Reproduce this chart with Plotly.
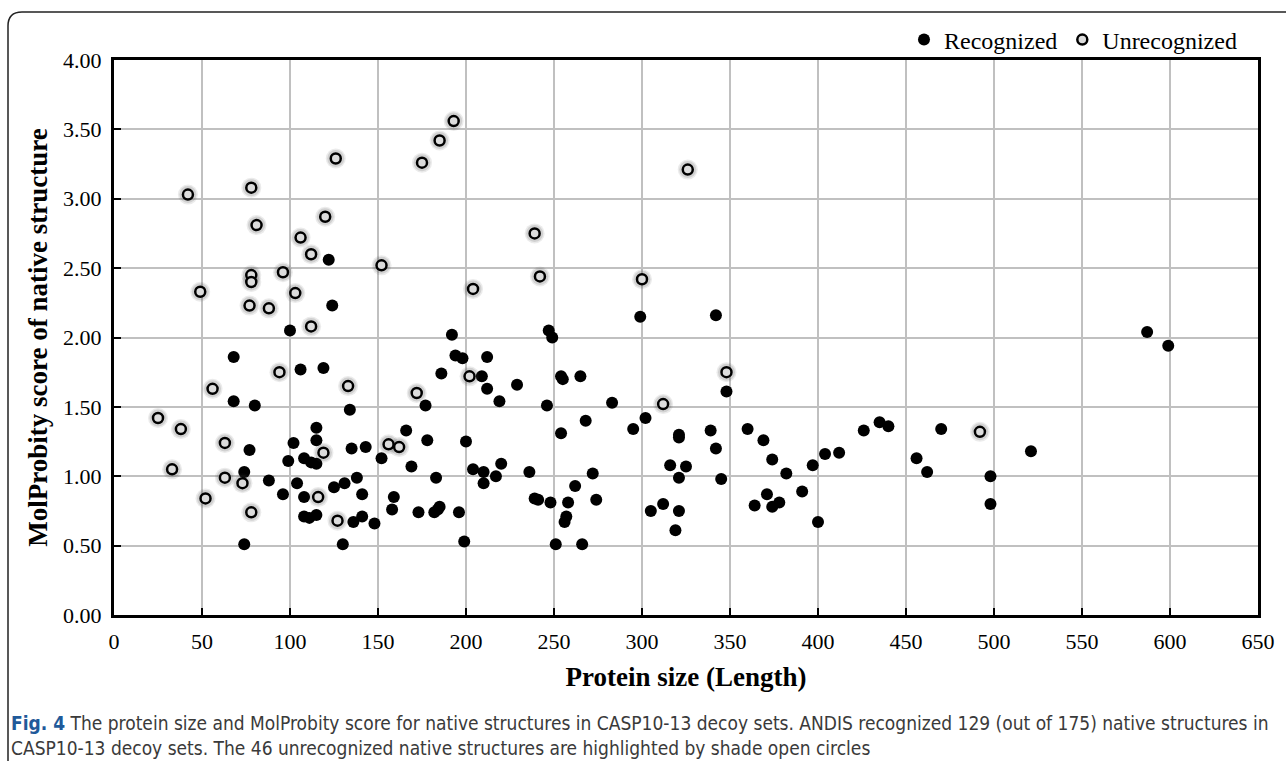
import plotly.graph_objects as go

# ---- data ----
recognized_len = [122, 124, 100, 68, 106, 119, 68, 80, 134, 115, 115, 102, 77, 135, 99, 108, 112, 115, 74, 88,
                  104, 138, 125, 131, 96, 108, 141, 108, 111, 115, 136, 74, 130,
                  299, 247, 249, 192, 194, 198, 212, 186, 209, 254, 255, 265, 212, 229, 219, 177, 246,
                  283, 268, 254, 295, 166, 143, 178, 200, 152, 169, 204, 210, 220, 236, 210, 217, 183,
                  272, 159, 158, 173, 182, 185, 184, 196, 239, 241, 248, 258, 262, 274, 257, 256, 141,
                  148, 199, 251, 266,
                  342, 348, 302, 321, 321, 339, 342, 360, 369, 374, 316, 325, 321, 345, 382, 397, 404,
                  412, 426, 435, 440, 456, 462, 470, 312, 305, 321, 319, 371, 364, 374, 378, 391, 400,
                  521, 498, 498, 587, 599]
recognized_score = [2.56, 2.23, 2.05, 1.86, 1.77, 1.78, 1.54, 1.51, 1.48, 1.35, 1.26, 1.24, 1.19, 1.20, 1.11, 1.13,
                    1.10, 1.09, 1.03, 0.97, 0.95, 0.99, 0.92, 0.95, 0.87, 0.85, 0.87, 0.71, 0.70, 0.72, 0.67,
                    0.51, 0.51,
                    2.15, 2.05, 2.00, 2.02, 1.87, 1.85, 1.86, 1.74, 1.72, 1.72, 1.70, 1.72, 1.63, 1.66, 1.54,
                    1.51, 1.51, 1.53, 1.40, 1.31, 1.34, 1.33, 1.21, 1.26, 1.25, 1.13, 1.07, 1.05, 1.03, 1.09,
                    1.03, 0.95, 1.00, 0.99, 1.02, 0.85, 0.76, 0.74, 0.74, 0.78, 0.76, 0.74, 0.84, 0.83, 0.81,
                    0.81, 0.93, 0.83, 0.71, 0.67, 0.71, 0.66, 0.53, 0.51, 0.51,
                    2.16, 1.61, 1.42, 1.30, 1.28, 1.33, 1.20, 1.34, 1.26, 1.12, 1.08, 1.07, 0.99, 0.98, 1.02,
                    1.08, 1.16, 1.17, 1.33, 1.39, 1.36, 1.13, 1.03, 1.34, 0.80, 0.75, 0.75, 0.61, 0.87, 0.79,
                    0.78, 0.81, 0.89, 0.67,
                    1.18, 1.00, 0.80, 2.04, 1.94]

unrecognized_len = [126, 42, 78, 120, 81, 106, 112, 96, 78, 78, 49, 103, 77, 88, 112, 94, 133, 56, 25, 38, 63,
                    119, 33, 63, 73, 52, 116, 78, 127, 193, 185, 175, 239, 152, 242, 204, 300, 202, 172, 156,
                    162, 326, 348, 312, 492]
unrecognized_score = [3.29, 3.03, 3.08, 2.87, 2.81, 2.72, 2.60, 2.47, 2.45, 2.40, 2.33, 2.32, 2.23, 2.21, 2.08,
                      1.75, 1.65, 1.63, 1.42, 1.34, 1.24, 1.17, 1.05, 0.99, 0.95, 0.84, 0.85, 0.74, 0.68, 3.56,
                      3.42, 3.26, 2.75, 2.52, 2.44, 2.35, 2.42, 1.72, 1.60, 1.23, 1.21, 3.21, 1.75, 1.52, 1.32]

x_ticks = [0, 50, 100, 150, 200, 250, 300, 350, 400, 450, 500, 550, 600, 650]
y_ticks = [0.0, 0.5, 1.0, 1.5, 2.0, 2.5, 3.0, 3.5, 4.0]

x_title = "Protein size (Length)"
y_title = "MolProbity score of native structure"
caption_1 = ("<b><span style='color:#1f5a9a'>Fig. 4</span></b> The protein size and MolProbity score for native "
             "structures in CASP10-13 decoy sets. ANDIS recognized 129 (out of 175) native structures in")
caption_2 = "CASP10-13 decoy sets. The 46 unrecognized native structures are highlighted by shade open circles"

# ---- layout geometry (pixels) ----
W, H = 1286, 761
L, R, T, B = 114, 1258, 60, 615
pw, ph = R - L, B - T


def px_x(p):
    return (p - L) / pw


def px_y(p):
    return (B - p) / ph


SERIF = "Liberation Serif, Times New Roman, serif"

fig = go.Figure()

fig.add_trace(go.Scatter(
    x=recognized_len, y=recognized_score, mode="markers", name="Recognized",
    marker=dict(size=12, color="black", line=dict(width=0)),
    hoverinfo="skip"))

# soft shade around unrecognized circles
for sz, op in [(20, 0.10), (17, 0.15)]:
    fig.add_trace(go.Scatter(
        x=unrecognized_len, y=unrecognized_score, mode="markers", showlegend=False,
        marker=dict(size=sz, color=f"rgba(60,60,60,{op})", line=dict(width=0)),
        hoverinfo="skip"))

fig.add_trace(go.Scatter(
    x=unrecognized_len, y=unrecognized_score, mode="markers", name="Unrecognized",
    marker=dict(size=10, color="#dcdcdc", line=dict(width=2.5, color="black")),
    hoverinfo="skip"))

fig.update_layout(
    width=W, height=H,
    margin=dict(l=L, r=W - R, t=T, b=H - B, pad=0),
    paper_bgcolor="white", plot_bgcolor="white",
    font=dict(family=SERIF, size=22, color="black"),
    showlegend=True,
    legend=dict(orientation="h", x=px_x(1242), xanchor="right", y=px_y(40), yanchor="middle",
                font=dict(family=SERIF, size=24, color="black"),
                itemwidth=30, bgcolor="rgba(0,0,0,0)", traceorder="normal"),
)

fig.update_xaxes(
    range=[0, 650], tickmode="array", tickvals=x_ticks, ticktext=[str(v) for v in x_ticks],
    showgrid=True, gridcolor="#c0c0c0", gridwidth=2, zeroline=False,
    showline=True, linecolor="black", linewidth=3, mirror=True,
    ticks="inside", ticklen=7, tickwidth=2, tickcolor="black",
    tickfont=dict(family=SERIF, size=22), ticklabelstandoff=5,
    title=dict(text=f"<b>{x_title}</b>", font=dict(family=SERIF, size=27), standoff=14),
)
fig.update_yaxes(
    range=[0, 4], tickmode="array", tickvals=y_ticks, ticktext=[f"{v:.2f}" for v in y_ticks],
    showgrid=True, gridcolor="#c0c0c0", gridwidth=2, zeroline=False,
    showline=True, linecolor="black", linewidth=3, mirror=True,
    ticks="inside", ticklen=7, tickwidth=2, tickcolor="black",
    tickfont=dict(family=SERIF, size=22), ticklabelstandoff=5,
    title=dict(text=f"<b>{y_title}</b>", font=dict(family=SERIF, size=27), standoff=8),
)

# caption (two lines in one text block)
CAP_FONT = "DejaVu Sans Condensed, Liberation Sans, Arial, sans-serif"
fig.add_annotation(text=caption_1 + "<br>" + caption_2, xref="paper", yref="paper",
                   x=px_x(10), y=px_y(735), xanchor="left", yanchor="middle",
                   showarrow=False, align="left", borderpad=0,
                   font=dict(family=CAP_FONT, size=19, color="#3a3a3a"))

# outer rounded frame
x0, y0 = px_x(8), px_y(12)
rx, ry = 14 / pw, 14 / ph
x1, y1 = px_x(1300), px_y(775)
path = (f"M {x0},{y1} L {x0},{y0 - ry} Q {x0},{y0} {x0 + rx},{y0} L {x1},{y0}")
fig.add_shape(type="path", xref="paper", yref="paper", path=path,
              line=dict(color="#222222", width=1.5), layer="above")

fig.write_html("out.html")
